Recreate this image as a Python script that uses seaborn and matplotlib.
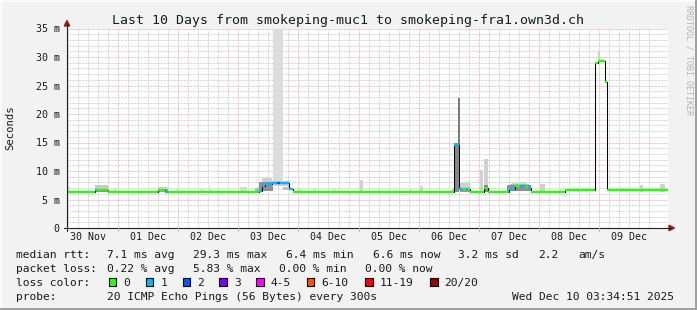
import matplotlib
matplotlib.use("Agg")
import matplotlib.pyplot as plt
import seaborn as sns
import pandas as pd
from matplotlib.patches import Rectangle, Polygon
from matplotlib.lines import Line2D

# ---------------- data ----------------
title = "Last 10 Days from smokeping-muc1 to smokeping-fra1.own3d.ch"
date_labels = ["30 Nov", "01 Dec", "02 Dec", "03 Dec", "04 Dec",
               "05 Dec", "06 Dec", "07 Dec", "08 Dec", "09 Dec"]
label_days = [0.5, 1.5, 2.5, 3.5, 4.5, 5.5, 6.5, 7.5, 8.5, 9.5]   # noon of each day
midnights = [1, 2, 3, 4, 5, 6, 7, 8, 9, 10]
t_start, t_end = 0.149, 10.149          # days since 30 Nov 00:00
y_ticks = [0, 5, 10, 15, 20, 25, 30, 35]
y_tick_labels = ["0", "5 m", "10 m", "15 m", "20 m", "25 m", "30 m", "35 m"]

# median rtt (ms), step series, with number of lost pings per step
med_t = [0.149, 0.615, 0.648, 0.831, 1.663, 1.780, 1.829, 3.344, 3.394, 3.444,
         3.560, 3.643, 3.693, 3.843, 3.909, 6.588, 6.671, 6.738, 6.788, 6.821,
         6.854, 7.088, 7.154, 7.504, 7.603, 7.686, 7.770, 7.820, 7.870, 8.435,
         8.934, 8.984, 9.101, 9.134]
med_v = [6.4, 6.6, 6.6, 6.4, 6.6, 6.4, 6.4, 6.5, 7.4, 7.7,
         7.9, 7.9, 7.9, 6.8, 6.4, 14.5, 6.8, 6.9, 6.8, 6.9,
         6.3, 7.0, 6.3, 6.8, 7.3, 7.4, 7.2, 7.0, 6.4, 6.6,
         29.0, 29.3, 25.7, 6.6]
med_loss = [0, 1, 0, 0, 0, 1, 0, 1, 1, 1,
            1, 2, 1, 1, 0, 1, 1, 0, 1, 0,
            0, 0, 0, 1, 0, 1, 0, 1, 0, 0,
            0, 0, 0, 0]

# smoke (spread of the 20 pings): start day, end day, low ms, high ms, ping density
smoke_t0 = [0.149, 0.615, 0.615, 0.914, 1.663, 1.663, 1.963, 2.362, 2.495, 3.028,
            3.277, 3.344, 3.394, 3.582, 3.560, 3.739, 3.976, 4.242, 4.575, 5.024,
            5.324, 5.490, 5.856, 6.023, 6.555, 6.588, 6.655, 6.688, 6.688, 7.021,
            7.088, 7.088, 7.470, 7.520, 7.560, 8.019, 8.352, 8.635, 8.984, 9.350,
            9.683, 10.016]
smoke_t1 = [0.199, 0.831, 0.831, 0.981, 1.829, 1.829, 2.029, 2.445, 2.562, 3.144,
            3.344, 3.582, 3.560, 3.739, 3.860, 3.880, 4.059, 4.309, 4.625, 5.074,
            5.357, 5.523, 5.889, 6.073, 6.588, 6.671, 6.688, 6.854, 6.854, 7.071,
            7.154, 7.154, 7.870, 7.840, 7.800, 8.102, 8.385, 8.685, 9.017, 9.400,
            9.733, 10.099]
smoke_lo = [6.4, 6.4, 6.9, 6.4, 6.4, 6.8, 6.4, 6.4, 6.4, 6.4,
            6.4, 6.5, 8.0, 8.0, 7.4, 6.6, 6.4, 6.4, 6.4, 6.4,
            6.4, 6.4, 6.4, 6.4, 6.4, 6.4, 14.5, 6.4, 7.1, 6.4,
            6.4, 6.4, 6.5, 7.5, 7.7, 6.4, 6.4, 6.4, 29.3, 6.4,
            6.4, 6.4]
smoke_hi = [7.4, 6.9, 7.5, 6.9, 6.8, 7.2, 6.9, 7.0, 7.0, 7.2,
            7.0, 8.0, 8.8, 40.0, 8.3, 7.2, 7.0, 7.0, 7.0, 8.4,
            6.8, 6.9, 6.8, 7.4, 6.9, 15.0, 22.8, 7.1, 7.9, 10.2,
            12.1, 7.6, 7.5, 7.7, 8.1, 7.8, 6.9, 7.1, 31.0, 7.0,
            7.5, 7.8]
smoke_density = [0.25, 0.7, 0.35, 0.2, 0.6, 0.3, 0.2, 0.2, 0.2, 0.25,
                 0.45, 0.7, 0.3, 0.22, 0.3, 0.4, 0.2, 0.2, 0.2, 0.3,
                 0.2, 0.2, 0.2, 0.3, 0.4, 0.75, 0.85, 0.65, 0.3, 0.3,
                 0.3, 0.75, 0.7, 0.45, 0.25, 0.3, 0.2, 0.25, 0.3, 0.2,
                 0.3, 0.3]

loss_names = ["0", "1", "2", "3", "4-5", "6-10", "11-19", "20/20"]
loss_colors = ["#26ff00", "#00b8ff", "#0059ff", "#7e00ff", "#ff00ff",
               "#ff5500", "#ff0000", "#a10000"]

row1 = [("median rtt:", 16), ("7.1 ms avg", 107.3), ("29.3 ms max", 192.7),
        ("6.4 ms min", 286), ("6.6 ms now", 372.7), ("3.2 ms sd", 458),
        ("2.2", 538), ("am/s", 578)]
row2 = [("packet loss:", 16), ("0.22 % avg", 107.3), ("5.83 % max", 193.3),
        ("0.00 % min", 279.3), ("0.00 % now", 365)]
row3_label = "loss color:"
row3_box_x = [108.7, 145.7, 182.7, 219.3, 256, 306.7, 365, 430]
row4 = [("probe:", 16), ("20 ICMP Echo Pings (56 Bytes) every 300s", 107.3),
        ("Wed Dec 10 03:34:51 2025", 512.3)]

# ---------------- style ----------------
W, H = 697, 310
sns.set_style("white")
plt.rcParams["font.family"] = ["DejaVu Sans Mono", "DejaVu Sans"]
TXT = "#1a1a1a"
BG = "#f2f2f2"
GRID = "#c8c8c8"
MGRID = "#eda8a8"
DOT = (0, (0.72, 0.72))


def fx(x):
    return x / W


def fy(y):
    return 1 - y / H


fig = plt.figure(figsize=(W / 100, H / 100), dpi=100, facecolor=BG)
ax = fig.add_axes([fx(67), fy(228), (668 - 67) / W, (228 - 28.5) / H])
ax.set_facecolor("white")
ax.set_xlim(t_start, t_end)
ax.set_ylim(0, 35)

# grid
ax.set_yticks(y_ticks)
ax.set_yticklabels(y_tick_labels)
ax.set_yticks([v for v in range(36) if v % 5], minor=True)
ax.set_xticks(label_days)
ax.set_xticklabels(date_labels)
minor_x = [d + h / 24 for d in range(0, 11) for h in (4, 8, 16, 20)]
ax.set_xticks([m for m in minor_x if t_start < m < t_end], minor=True)
ax.grid(which="minor", axis="both", color=GRID, ls=DOT, lw=0.72, zorder=0)
ax.grid(which="major", axis="x", color=GRID, ls=DOT, lw=0.72, zorder=0)
ax.grid(which="major", axis="y", color=MGRID, ls=DOT, lw=0.72, zorder=0)
ax.vlines(midnights[:-1], 0, 35, colors=MGRID, linestyles=DOT, lw=0.72, zorder=0)
ax.set_axisbelow(True)
ax.tick_params(which="both", length=0)
ax.tick_params(axis="y", pad=5.2, labelsize=7.2, labelcolor=TXT)
ax.tick_params(axis="x", pad=3.2, labelsize=7.2, labelcolor=TXT)
for s in ax.spines.values():
    s.set_visible(False)

# smoke
for t0, t1, lo, hi, dens in zip(smoke_t0, smoke_t1, smoke_lo, smoke_hi, smoke_density):
    g = 1 - 0.62 * dens
    ax.bar(t0, hi - lo, width=t1 - t0, bottom=lo, align="edge",
           color=(g, g, g), lw=0, zorder=1)

# median: black step line + loss-coloured steps
df = pd.DataFrame({"t": med_t + [t_end], "v": med_v + [med_v[-1]]})
sns.lineplot(data=df, x="t", y="v", drawstyle="steps-post", color="black",
             lw=0.75, ax=ax, estimator=None, sort=False, zorder=3)
ends = med_t[1:] + [t_end]
ax.hlines(med_v, med_t, ends, colors=[loss_colors[l] for l in med_loss],
          lw=1.7, zorder=4, capstyle="butt")
ax.set_xlabel("")
ax.set_ylabel("")

# axis lines and arrows
ART = "#202020"
ARR = "#a01818"
fig.add_artist(Line2D([fx(67), fx(67)], [fy(231), fy(24)], color=ART, lw=0.8))
fig.add_artist(Line2D([fx(64), fx(671)], [fy(228), fy(228)], color=ART, lw=0.8))
fig.add_artist(Polygon([[fx(67), fy(20.5)], [fx(64.3), fy(26)], [fx(69.7), fy(26)]],
                       closed=True, color=ARR, transform=fig.transFigure))
fig.add_artist(Polygon([[fx(674.5), fy(228)], [fx(669), fy(225.3)], [fx(669), fy(230.7)]],
                       closed=True, color=ARR, transform=fig.transFigure))
for m in midnights[:-1]:
    xp = 67 + (m - t_start) * 601 / 10
    fig.add_artist(Line2D([fx(xp), fx(xp)], [fy(228), fy(231)], color=MGRID, lw=0.8))

# texts
fig.text(0.5, fy(24), title, ha="center", va="baseline", fontsize=9.5, color=TXT)
fig.text(fx(10), fy(128), "Seconds", rotation=90, ha="center", va="center",
         fontsize=7.6, color=TXT)
fig.text(fx(688.5), fy(5), "RRDTOOL / TOBI OETIKER", rotation=-90, ha="center",
         va="top", fontsize=6.0, color="#b4b4b4")

LFS = 8.1
for txt, xp in row1:
    fig.text(fx(xp), fy(257.7), txt, ha="left", va="baseline", fontsize=LFS, color=TXT)
for txt, xp in row2:
    fig.text(fx(xp), fy(271.7), txt, ha="left", va="baseline", fontsize=LFS, color=TXT)
fig.text(fx(16), fy(285.7), row3_label, ha="left", va="baseline", fontsize=LFS, color=TXT)
for name, col, xp in zip(loss_names, loss_colors, row3_box_x):
    fig.add_artist(Rectangle((fx(xp), fy(285.5)), 7.5 / W, 8 / H, facecolor=col,
                             edgecolor="black", lw=0.8, transform=fig.transFigure))
    fig.text(fx(xp + 14.5), fy(285.7), name, ha="left", va="baseline",
             fontsize=LFS, color=TXT)
for txt, xp in row4:
    fig.text(fx(xp), fy(299.5), txt, ha="left", va="baseline", fontsize=LFS, color=TXT)

# frame shading
fig.add_artist(Rectangle((0, fy(2)), 1, 2 / H, facecolor="#fbfbfb", lw=0, transform=fig.transFigure))
fig.add_artist(Rectangle((0, 0), 2 / W, 1, facecolor="#fbfbfb", lw=0, transform=fig.transFigure))
fig.add_artist(Rectangle((0, 0), 1, 2.5 / H, facecolor="#a0a0a0", lw=0, transform=fig.transFigure))
fig.add_artist(Rectangle((1 - 2.5 / W, 0), 2.5 / W, 1, facecolor="#a0a0a0", lw=0,
                         transform=fig.transFigure))

fig.savefig("out.png", dpi=100, facecolor=BG)
